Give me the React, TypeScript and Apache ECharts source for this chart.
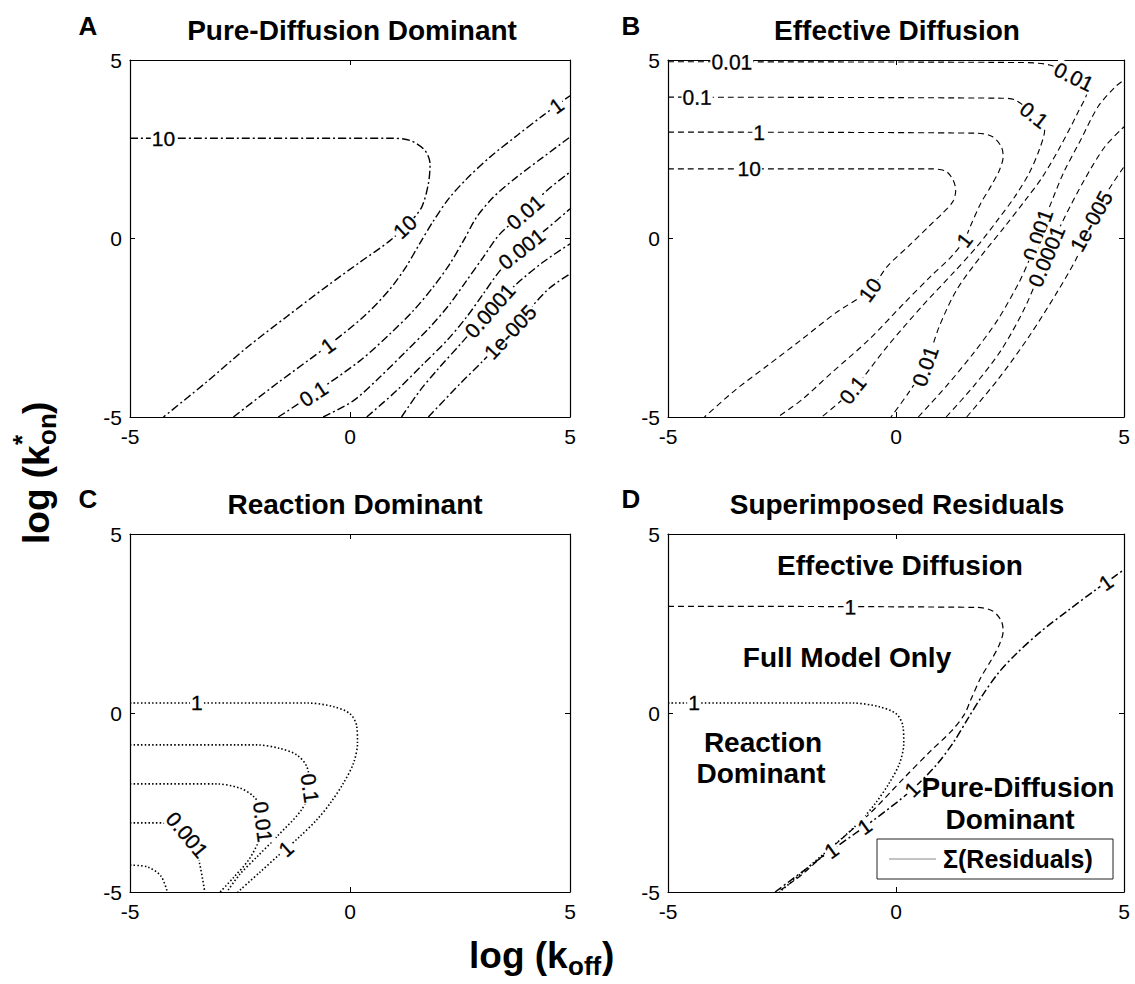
import React, { useEffect, useRef } from "react";
import * as echarts from "echarts";

type Pt = [number, number];

const FONT = "'Liberation Sans', Arial, Helvetica, sans-serif";

const AXIS_MIN = -5;
const AXIS_MAX = 5;
const AXIS_STEP = 5;

// ---- Pure-diffusion model residual contours (log koff, log kon*) ----
const pd10: Pt[] = [
  [-5, 2.81], [0.91, 2.81], [1.36, 2.75], [1.7, 2.47], [1.82, 2.09], [1.78, 1.53],
  [1.63, 0.88], [1.36, 0.46], [0.91, -0.06], [0.23, -0.66], [-0.53, -1.34],
  [-1.44, -2.19], [-2.35, -3.06], [-3.26, -4.02], [-4.24, -5],
];
const pd1: Pt[] = [
  [-2.65, -5], [-1.67, -4.07], [-0.5, -3.0], [0.3, -2.2], [0.88, -1.46], [1.27, -0.8],
  [1.58, -0.15], [1.9, 0.5], [2.24, 1.11], [2.65, 1.67], [3.18, 2.28], [3.79, 2.88],
  [4.39, 3.45], [5, 4.0],
];
const pd01: Pt[] = [
  [-1.63, -5], [-0.83, -4.35], [0.23, -3.42], [0.91, -2.67], [1.44, -2.02], [1.89, -1.36],
  [2.27, -0.71], [2.58, -0.06], [2.88, 0.6], [3.26, 1.16], [3.79, 1.72], [4.39, 2.28], [5, 2.84],
];
const pd001: Pt[] = [
  [-0.61, -5], [0.08, -4.54], [0.68, -3.88], [1.29, -3.14], [1.82, -2.48], [2.27, -1.83],
  [2.65, -1.18], [3.03, -0.52], [3.41, 0.13], [3.98, 0.74], [4.47, 1.34], [5, 1.86],
];
const pd0001: Pt[] = [
  [0.38, -5], [1.06, -4.26], [1.67, -3.51], [2.2, -2.86], [2.65, -2.2], [3.03, -1.55],
  [3.41, -0.9], [3.9, -0.29], [4.47, 0.27], [5, 0.83],
];
const pd00001: Pt[] = [
  [1.17, -5], [1.59, -4.26], [1.97, -3.7], [2.58, -2.86], [3.18, -2.02], [3.79, -1.27],
  [4.39, -0.66], [5, -0.15],
];
const pd1e5: Pt[] = [
  [1.78, -5], [2.5, -4.07], [3.03, -3.42], [3.64, -2.62], [4.47, -1.46], [5, -0.99],
];

// ---- Effective-diffusion model residual contours ----
const ed10: Pt[] = [
  [-5, 1.95], [0.8, 1.95], [1.1, 1.88], [1.25, 1.64], [1.31, 1.36], [1.25, 1.04],
  [1.02, 0.71], [0.72, 0.34], [0.27, -0.22], [-0.19, -0.78], [-0.57, -1.44],
  [-1.33, -2.09], [-2.08, -2.84], [-2.84, -3.58], [-3.52, -4.24], [-4.2, -5],
];
const ed1: Pt[] = [
  [-5, 2.98], [1.78, 2.95], [2.12, 2.85], [2.31, 2.57], [2.35, 2.29], [2.27, 1.92],
  [2.08, 1.46], [1.86, 0.99], [1.63, 0.34], [1.5, -0.04], [1.22, -0.5], [0.76, -1.06],
  [0.18, -1.81], [-0.6, -2.84], [-1.42, -3.77], [-2.06, -4.51], [-2.59, -5],
];
const ed01: Pt[] = [
  [-5, 3.96], [2.31, 3.93], [2.61, 3.88], [3.03, 3.46], [3.26, 3.04], [3.14, 2.48],
  [2.92, 1.83], [2.61, 1.18], [2.23, 0.52], [1.78, -0.22], [1.25, -0.97], [0.57, -1.9],
  [-0.19, -3.02], [-0.95, -4.24], [-1.63, -5],
];
const ed001: Pt[] = [
  [-5, 4.95], [2.69, 4.93], [3.37, 4.86], [3.9, 4.53], [4.2, 4.16], [3.98, 3.51],
  [3.6, 2.57], [3.22, 1.74], [2.84, 1.08], [2.39, 0.34], [1.86, -0.5], [1.33, -1.44],
  [0.95, -2.46], [0.64, -3.58], [0.27, -4.33], [-0.11, -5],
];
const ed0001: Pt[] = [
  [0.49, -5], [1.1, -4.14], [1.7, -3.21], [2.23, -2.28], [2.69, -1.25], [2.92, -0.6],
  [3.11, 0.1], [3.37, 0.9], [3.67, 1.83], [4.05, 2.76], [4.43, 3.69], [4.81, 4.25], [5, 4.44],
];
const ed00001: Pt[] = [
  [1.1, -5], [1.7, -4.14], [2.31, -3.12], [2.84, -1.9], [3.3, -0.5], [3.67, 0.52],
  [4.13, 1.64], [4.58, 2.57], [5, 3.13],
];
const ed1e5: Pt[] = [
  [1.55, -5], [2.23, -3.96], [2.92, -2.74], [3.52, -1.53], [3.98, -0.5], [4.28, 0.48],
  [4.66, 1.36], [5, 2.01],
];

// ---- Reaction-dominant model residual contours ----
const rd1: Pt[] = [
  [-5, 0.28], [-0.98, 0.28], [-0.38, 0.18], [0, -0.02], [0.15, -0.35], [0.17, -0.85],
  [0.08, -1.4], [-0.15, -1.96], [-0.45, -2.52], [-0.76, -2.99], [-1.14, -3.45],
  [-1.6, -3.95], [-2.05, -4.45], [-2.55, -5],
];
const rd01: Pt[] = [
  [-5, -0.89], [-2.12, -0.89], [-1.59, -0.99], [-1.21, -1.17], [-0.98, -1.5],
  [-0.91, -2.1], [-1.1, -2.7], [-1.66, -3.45], [-2.1, -4.0], [-2.5, -4.5], [-2.8, -5],
];
const rd001: Pt[] = [
  [-5, -1.98], [-3.03, -1.98], [-2.5, -2.1], [-2.2, -2.32], [-2.02, -2.65], [-1.98, -3.04],
  [-2.05, -3.5], [-2.3, -4.1], [-2.65, -4.6], [-2.95, -5],
];
const rd0001: Pt[] = [
  [-5, -3.07], [-4.09, -3.07], [-3.85, -3.18], [-3.7, -3.4], [-3.55, -3.7], [-3.42, -4.2],
  [-3.3, -5],
];
const rd00001: Pt[] = [[-5, -4.25], [-4.6, -4.3], [-4.3, -4.55], [-4.15, -5]];

interface Contour {
  level: string;
  pts: Pt[];
  labels: Pt[];
}

const pureDiffusion: Contour[] = [
  { level: "10", pts: pd10, labels: [[-4.24, 2.81], [1.25, 0.32]] },
  { level: "1", pts: pd1, labels: [[-0.5, -3.0], [4.7, 3.72]] },
  { level: "0.1", pts: pd01, labels: [[-0.83, -4.35]] },
  { level: "0.01", pts: pd001, labels: [[3.98, 0.74]] },
  { level: "0.001", pts: pd0001, labels: [[3.9, -0.29]] },
  { level: "0.0001", pts: pd00001, labels: [[3.18, -2.02]] },
  { level: "1e-005", pts: pd1e5, labels: [[3.64, -2.62]] },
];

const effectiveDiffusion: Contour[] = [
  { level: "10", pts: ed10, labels: [[-3.22, 1.95], [-0.57, -1.44]] },
  { level: "1", pts: ed1, labels: [[-3.0, 2.98], [1.5, -0.04]] },
  { level: "0.1", pts: ed01, labels: [[-4.36, 3.96], [3.03, 3.46], [-0.95, -4.24]] },
  { level: "0.01", pts: ed001, labels: [[-3.6, 4.95], [3.9, 4.53], [0.64, -3.58]] },
  { level: "0.001", pts: ed0001, labels: [[3.11, 0.1]] },
  { level: "0.0001", pts: ed00001, labels: [[3.3, -0.5]] },
  { level: "1e-005", pts: ed1e5, labels: [[4.28, 0.48]] },
];

const reactionDominant: Contour[] = [
  { level: "1", pts: rd1, labels: [[-3.48, 0.28], [-1.45, -3.8]] },
  { level: "0.1", pts: rd01, labels: [[-0.91, -2.1]] },
  { level: "0.01", pts: rd001, labels: [[-1.98, -3.04]] },
  { level: "0.001", pts: rd0001, labels: [[-3.7, -3.4]] },
  { level: "0.0001", pts: rd00001, labels: [] },
];

// Superimposed unit-residual contours of each model
const overlayEffective: Contour[] = [{ level: "1", pts: ed1, labels: [[-1.0, 2.98]] }];
const overlayReaction: Contour[] = [{ level: "1", pts: rd1, labels: [[-4.43, 0.28]] }];
const overlayPure: Contour[] = [
  { level: "1", pts: pd1, labels: [[4.63, 3.6], [0.27, -2.03], [-0.73, -3.1], [-1.5, -3.69]] },
];

const panelTitles = ["Pure-Diffusion Dominant", "Effective Diffusion", "Reaction Dominant", "Superimposed Residuals"];
const panelLetters = ["A", "B", "C", "D"];

const GRIDS = [
  { left: 130, top: 60, width: 440, height: 357 },
  { left: 668, top: 60, width: 456, height: 357 },
  { left: 130, top: 534, width: 440, height: 358 },
  { left: 668, top: 534, width: 456, height: 358 },
];

const DASH_DOT = [8, 3, 2, 3];
const DASHED = [6, 4];
const DOTTED = [1.5, 2.2];

function anchorOnLine(pts: Pt[], at: Pt, g: { width: number; height: number }) {
  const sx = g.width / (AXIS_MAX - AXIS_MIN);
  const sy = g.height / (AXIS_MAX - AXIS_MIN);
  let best = Infinity;
  let pos: Pt = at;
  let ang = 0;
  for (let i = 0; i < pts.length - 1; i++) {
    const ax = pts[i][0] * sx, ay = pts[i][1] * sy;
    const bx = pts[i + 1][0] * sx, by = pts[i + 1][1] * sy;
    const px = at[0] * sx, py = at[1] * sy;
    const dx = bx - ax, dy = by - ay;
    const l2 = dx * dx + dy * dy || 1;
    let t = ((px - ax) * dx + (py - ay) * dy) / l2;
    t = Math.max(0, Math.min(1, t));
    const qx = ax + t * dx, qy = ay + t * dy;
    const d = (qx - px) ** 2 + (qy - py) ** 2;
    if (d < best) {
      best = d;
      pos = [qx / sx, qy / sy];
      ang = (Math.atan2(dy, dx) * 180) / Math.PI;
    }
  }
  if (ang > 90) ang -= 180;
  if (ang < -90) ang += 180;
  return { pos, ang };
}

function contourSeries(grid: number, list: Contour[], dash: number[], width: number, key: string) {
  const g = GRIDS[grid];
  const out: any[] = [];
  list.forEach((c, i) => {
    out.push({
      id: `${key}-line-${i}`,
      type: "line",
      xAxisIndex: grid * 2,
      yAxisIndex: grid * 2,
      data: c.pts,
      showSymbol: false,
      symbol: "none",
      smooth: 0.3,
      silent: true,
      z: 2,
      lineStyle: { color: "#000", width, type: dash, cap: "butt", opacity: 1 },
    });
  });
  const labelData: any[] = [];
  list.forEach((c) =>
    c.labels.forEach((at) => {
      const { pos, ang } = anchorOnLine(c.pts, at, g);
      labelData.push({ value: pos, label: { formatter: c.level, rotate: ang } });
    })
  );
  out.push({
    id: `${key}-labels`,
    type: "scatter",
    xAxisIndex: grid * 2,
    yAxisIndex: grid * 2,
    data: labelData,
    symbolSize: 1,
    silent: true,
    z: 5,
    itemStyle: { color: "#fff", opacity: 0 },
    label: {
      show: true,
      position: "inside",
      color: "#000",
      opacity: 1,
      fontSize: 21,
      fontFamily: FONT,
      textBorderColor: "#000",
      textBorderWidth: 0.3,
      backgroundColor: "#fff",
      padding: [0, 1],
    },
  });
  return out;
}

function buildAxes() {
  const xAxis: any[] = [];
  const yAxis: any[] = [];
  GRIDS.forEach((_, i) => {
    const common = {
      gridIndex: i,
      type: "value",
      min: AXIS_MIN,
      max: AXIS_MAX,
      interval: AXIS_STEP,
      splitLine: { show: false },
      axisLine: { show: true, onZero: false, lineStyle: { color: "#000", width: 1.2 } },
      axisTick: { show: true, inside: true, length: 5, lineStyle: { color: "#000" } },
    };
    xAxis.push({
      ...common,
      position: "bottom",
      axisLabel: { fontSize: 21, color: "#000", fontFamily: FONT, margin: 9 },
    });
    xAxis.push({ ...common, position: "top", axisLabel: { show: false } });
    yAxis.push({
      ...common,
      position: "left",
      axisLabel: { fontSize: 21, color: "#000", fontFamily: FONT, margin: 8 },
    });
    yAxis.push({ ...common, position: "right", axisLabel: { show: false } });
  });
  return { xAxis, yAxis };
}

function boldText(text: string, x: number, y: number, size: number, align = "center") {
  return {
    type: "text",
    x,
    y,
    silent: true,
    style: {
      text,
      fill: "#000",
      fontSize: size,
      fontWeight: "bold",
      fontFamily: FONT,
      align,
      verticalAlign: "middle",
      textAlign: align,
      textVerticalAlign: "middle",
    },
  };
}

function buildGraphics() {
  const els: any[] = [];
  const letterPos: Pt[] = [[88, 26], [631, 26], [88, 499], [631, 499]];
  const titlePos: Pt[] = [[352, 30], [897, 30], [355, 504], [897, 504]];
  panelLetters.forEach((l, i) => els.push(boldText(l, letterPos[i][0], letterPos[i][1], 26)));
  panelTitles.forEach((t, i) => els.push(boldText(t, titlePos[i][0], titlePos[i][1], 28)));

  // x-axis title: log (k_off)
  els.push({
    type: "group",
    x: 540,
    y: 955,
    children: [
      boldText("log (k", -71, 0, 37, "left"),
      boldText("off", 28, 11, 26, "left"),
      boldText(")", 62, 0, 37, "left"),
    ],
  });
  // y-axis title: log (k*_on), reading upwards
  els.push({
    type: "group",
    x: 36,
    y: 476,
    rotation: Math.PI / 2,
    children: [
      boldText("log (k", -68, 0, 37, "left"),
      boldText("*", 31, -14, 26, "left"),
      boldText("on", 31, 11, 26, "left"),
      boldText(")", 62, 0, 37, "left"),
    ],
  });

  // region names in panel D
  els.push(boldText("Effective Diffusion", 900, 565, 28));
  els.push(boldText("Full Model Only", 847, 657, 28));
  els.push(boldText("Reaction", 763, 742, 28));
  els.push(boldText("Dominant", 761, 773, 28));
  els.push(boldText("Pure-Diffusion", 1018, 787, 28));
  els.push(boldText("Dominant", 1010, 819, 28));

  // legend box
  els.push({
    type: "rect",
    shape: { x: 877, y: 839, width: 236, height: 40 },
    style: { fill: "#fff", stroke: "#222", lineWidth: 1 },
    silent: true,
    z: 10,
  });
  els.push({
    type: "line",
    shape: { x1: 889, y1: 859, x2: 936, y2: 859 },
    style: { stroke: "#888", lineWidth: 1 },
    silent: true,
    z: 11,
  });
  els.push({ ...boldText("Σ(Residuals)", 943, 859, 25, "left"), z: 11 });
  return els;
}

export default function App() {
  const ref = useRef<HTMLDivElement>(null);
  useEffect(() => {
    if (!ref.current) return;
    const chart = echarts.init(ref.current, undefined, { renderer: "svg" });
    const { xAxis, yAxis } = buildAxes();
    const series = [
      ...contourSeries(0, pureDiffusion, DASH_DOT, 1.4, "pd"),
      ...contourSeries(1, effectiveDiffusion, DASHED, 1.1, "ed"),
      ...contourSeries(2, reactionDominant, DOTTED, 1.6, "rd"),
      ...contourSeries(3, overlayEffective, DASHED, 1.2, "ov-ed"),
      ...contourSeries(3, overlayReaction, DOTTED, 1.6, "ov-rd"),
      ...contourSeries(3, overlayPure, DASH_DOT, 1.5, "ov-pd"),
    ];
    chart.setOption({
      animation: false,
      backgroundColor: "#fff",
      grid: GRIDS.map((g) => ({ ...g, containLabel: false })),
      xAxis,
      yAxis,
      series,
      graphic: { elements: buildGraphics() },
    });
    return () => chart.dispose();
  }, []);
  return (
    <div
      ref={ref}
      style={{ position: "absolute", left: 0, top: 0, width: 1135, height: 984, background: "#fff" }}
    />
  );
}
